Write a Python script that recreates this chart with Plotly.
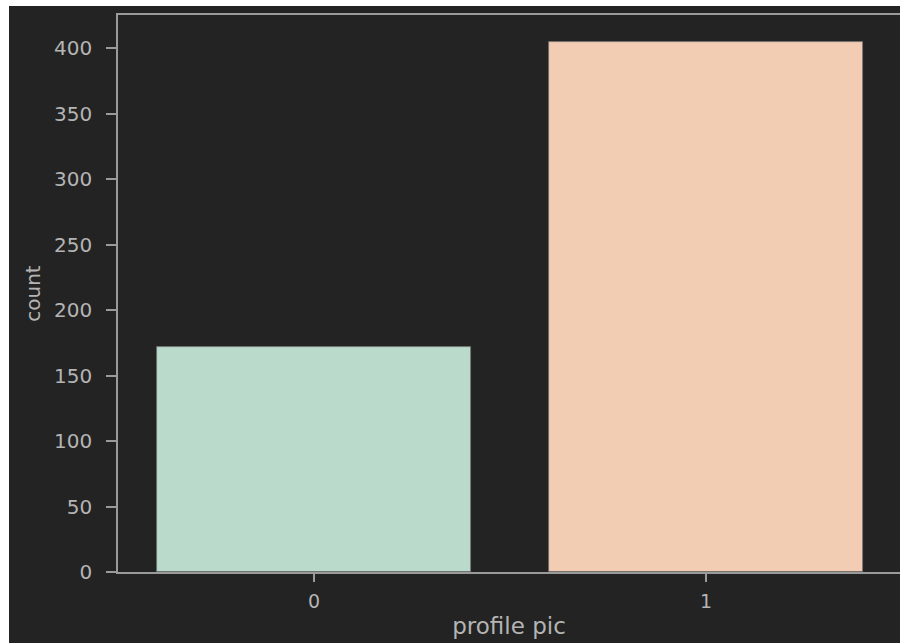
import plotly.graph_objects as go

categories = ["0", "1"]
counts = [172, 405]
bar_colors = ["#badbcc", "#f2cdb4"]

BG = "#232323"
SPINE = "#9a9a9a"
TXT = "#b4b4b4"

# figure placed 9px from the left and 6px from the top of the page (white border as in the reference)
W, H = 891, 637
ml, mr, mt, mb = 109, 0, 9, 71

fig = go.Figure(
    go.Bar(
        x=[0, 1],
        y=counts,
        width=0.8,
        marker=dict(color=bar_colors, line=dict(color="#707070", width=0.8)),
        hoverinfo="skip",
    )
)

fig.update_layout(
    width=W,
    height=H,
    margin=dict(l=ml, r=mr, t=mt, b=mb),
    paper_bgcolor=BG,
    plot_bgcolor=BG,
    showlegend=False,
    font=dict(family="DejaVu Sans", color=TXT),
    bargap=0,
)

fig.update_xaxes(
    range=[-0.5, 1.4949],
    tickmode="array",
    tickvals=[0, 1],
    ticktext=categories,
    showgrid=False,
    zeroline=False,
    showline=True,
    linecolor=SPINE,
    linewidth=1.6,
    mirror=True,
    ticks="outside",
    ticklen=8,
    tickwidth=1.6,
    tickcolor=SPINE,
    ticklabelstandoff=3,
    tickfont=dict(size=19, color=TXT),
    title=dict(text="profile pic", font=dict(size=23, color=TXT), standoff=7),
)

fig.update_yaxes(
    range=[0, 425.25],
    tickmode="array",
    tickvals=[0, 50, 100, 150, 200, 250, 300, 350, 400],
    showgrid=False,
    zeroline=False,
    showline=True,
    linecolor=SPINE,
    linewidth=1.6,
    ticks="outside",
    ticklen=10,
    tickwidth=1.6,
    tickcolor=SPINE,
    ticklabelstandoff=10,
    tickfont=dict(size=20, color=TXT),
    title=dict(text="count", font=dict(size=20, color=TXT), standoff=8),
)

fig.write_html(
    "out.html",
    post_script="document.body.style.margin='6px 0 0 9px';document.body.style.overflow='hidden';",
)
